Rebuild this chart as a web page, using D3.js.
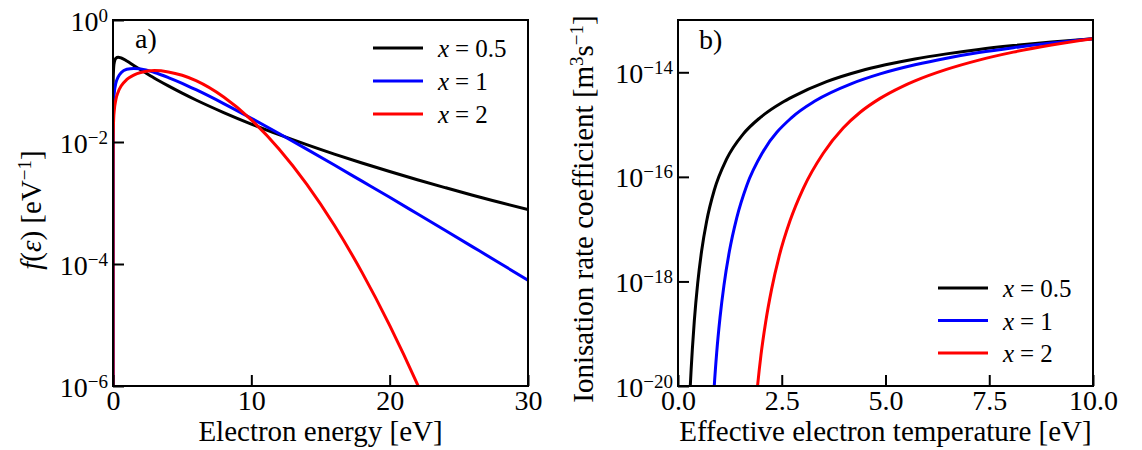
<!DOCTYPE html>
<html>
<head>
<meta charset="utf-8">
<script src="https://cdn.jsdelivr.net/npm/d3@7"></script>
<style>
  body { margin: 0; background: #fff; }
  svg { display: block; font-family: "Liberation Serif", "Tinos", "Times New Roman", "DejaVu Serif", serif; }
</style>
</head>
<body>
<svg id="chart" width="1142" height="450"></svg>
<script>
// ---- Panel a): electron energy distribution functions f(ε) [eV^-1] ----
const energy = [1e-13, 1e-4, 1e-3, 0.01, 0.05, 0.1, 0.2, 0.375, 0.6, 1, 1.5, 2, 3, 4, 5, 6,
                8, 10, 12, 14, 16, 18, 20, 22, 24, 26, 28, 30];
const eedfHalf = [3.44e-7, 0.0107, 0.0327, 0.0925, 0.169, 0.205, 0.235, 0.245, 0.238, 0.213,
                  0.180, 0.153, 0.111, 0.0831, 0.0632, 0.0488, 0.0304, 0.0197, 0.0132, 0.00905,
                  0.00634, 0.00453, 0.00328, 0.00241, 0.00179, 0.00134, 0.00102, 0.000778];
const eedfOne = [6.87e-8, 0.00217, 0.00687, 0.0216, 0.0478, 0.0664, 0.0909, 0.117, 0.138, 0.156,
                 0.161, 0.158, 0.138, 0.114, 0.0917, 0.0720, 0.0427, 0.0245, 0.0138, 0.00764,
                 0.00419, 0.00228, 0.00124, 0.000666, 0.000357, 0.000191, 0.000102, 0.0000540];
const eedfTwo = [3.44e-8, 0.00109, 0.00344, 0.0109, 0.0243, 0.0344, 0.0486, 0.0663, 0.0834, 0.106,
                 0.125, 0.138, 0.148, 0.141, 0.124, 0.101, 0.0546, 0.0231, 0.00770, 0.00204,
                 0.000431, 0.0000729, 0.00000986, 0.00000107, 9.3e-8, 6.5e-9, 3.6e-10, 1.65e-11];

// ---- Panel b): ionisation rate coefficient [m^3 s^-1] vs effective temperature [eV] ----
const tempHalf = [0.27, 0.29, 0.345, 0.393, 0.474, 0.57, 0.69, 0.875, 1.17, 1.57, 1.98, 2.5,
                  2.77, 3.58, 4.39, 5.0, 5.71, 6.47, 7.25, 8.08, 9.0, 10.0];
const rateHalf = [3.49e-21, 7.96e-21, 4.98e-20, 1.76e-19, 9.20e-19, 3.86e-18, 1.42e-17, 5.60e-17,
                  2.18e-16, 6.58e-16, 1.36e-15, 2.62e-15, 3.43e-15, 6.62e-15, 1.06e-14, 1.39e-14,
                  1.80e-14, 2.25e-14, 2.74e-14, 3.24e-14, 3.79e-14, 4.37e-14];
const tempOne = [0.86, 0.875, 0.932, 1.012, 1.108, 1.237, 1.414, 1.655, 2.056, 2.739, 3.30,
                 4.185, 4.87, 5.71, 6.47, 7.25, 8.08, 9.0, 10.0];
const rateOne = [6.67e-21, 1.04e-20, 4.31e-20, 2.02e-19, 8.51e-19, 3.72e-18, 1.63e-17, 6.78e-17,
                 3.10e-16, 1.36e-15, 2.82e-15, 6.08e-15, 9.31e-15, 1.39e-14, 1.86e-14, 2.38e-14,
                 2.95e-14, 3.62e-14, 4.37e-14];
const tempTwo = [1.895, 1.919, 1.999, 2.112, 2.257, 2.434, 2.699, 3.02, 3.50, 3.98, 4.39, 4.87,
                 5.39, 5.71, 6.47, 7.25, 8.08, 9.0, 10.0];
const rateTwo = [6.61e-21, 1.04e-20, 3.89e-20, 1.66e-19, 7.21e-19, 2.96e-18, 1.44e-17, 6.03e-17,
                 2.83e-16, 8.59e-16, 1.72e-15, 3.17e-15, 5.28e-15, 6.85e-15, 1.135e-14, 1.71e-14,
                 2.43e-14, 3.32e-14, 4.37e-14];

// ---- Shared legend / tick definitions ----
const shapeValues = ["0.5", "1", "2"];
const seriesColors = ["#000000", "#0000ff", "#ff0000"];
const energyTicks = [0, 10, 20, 30];
const eedfTicks = [1e0, 1e-2, 1e-4, 1e-6];
const tempTicks = [0, 2.5, 5, 7.5, 10];
const rateTicks = [1e-14, 1e-16, 1e-18, 1e-20];

const svg = d3.select("#chart");
const FONT = 28, TITLE = 29, SUP = 19, LEG = 25;

function appendPowerLabel(sel, v) {
  const exp = Math.round(Math.log10(v));
  sel.append("tspan").text("10");
  sel.append("tspan").attr("font-size", SUP).attr("dy", -9)
     .text(exp < 0 ? "\u2212" + (-exp) : String(exp));
}

function drawPanel(cfg, idx) {
  const g = svg.append("g");
  const x = d3.scaleLinear().domain(cfg.xDomain).range([cfg.left, cfg.right]);
  const y = d3.scaleLog().domain(cfg.yDomain).range([cfg.bottom, cfg.top]);

  const clipId = "plot-clip-" + idx;
  svg.append("clipPath").attr("id", clipId).append("rect")
     .attr("x", cfg.left).attr("y", cfg.top)
     .attr("width", cfg.right - cfg.left).attr("height", cfg.bottom - cfg.top);

  const line = d3.line().x(d => x(d[0])).y(d => y(d[1])).curve(d3.curveMonotoneX);
  cfg.series.forEach((s, i) => {
    g.append("path")
      .datum(d3.zip(s.xs, s.ys))
      .attr("d", line)
      .attr("clip-path", `url(#${clipId})`)
      .attr("fill", "none")
      .attr("stroke", seriesColors[i])
      .attr("stroke-width", 3)
      .attr("stroke-linejoin", "round");
  });

  // bottom axis, ticks pointing inward
  const xAxis = d3.axisBottom(x).tickValues(cfg.xTicks).tickFormat(cfg.xFormat)
                  .tickSize(-11).tickPadding(4);
  const gx = g.append("g").attr("transform", `translate(0,${cfg.bottom})`).call(xAxis);
  gx.select(".domain").remove();
  gx.attr("font-size", FONT).attr("font-family", null);
  gx.selectAll(".tick line").attr("stroke", "#000").attr("stroke-width", 2);
  gx.selectAll(".tick text").attr("fill", "#000");

  // left axis with power-of-ten labels
  const yAxis = d3.axisLeft(y).tickValues(cfg.yTicks).tickFormat(() => "").tickSize(-11);
  const gy = g.append("g").attr("transform", `translate(${cfg.left},0)`).call(yAxis);
  gy.select(".domain").remove();
  gy.attr("font-size", FONT).attr("font-family", null);
  gy.selectAll(".tick line").attr("stroke", "#000").attr("stroke-width", 2);
  gy.selectAll(".tick text").remove();
  gy.selectAll(".tick").each(function (v) {
    const t = d3.select(this).append("text")
      .attr("x", -5).attr("y", 10)
      .attr("text-anchor", "end").attr("fill", "#000");
    appendPowerLabel(t, v);
  });

  // frame
  g.append("rect")
    .attr("x", cfg.left).attr("y", cfg.top)
    .attr("width", cfg.right - cfg.left).attr("height", cfg.bottom - cfg.top)
    .attr("fill", "none").attr("stroke", "#000").attr("stroke-width", 2);

  // panel letter
  g.append("text").attr("x", cfg.letterX).attr("y", cfg.letterY)
    .attr("font-size", FONT).text(cfg.letter);

  // x-axis title
  g.append("text")
    .attr("x", (cfg.left + cfg.right) / 2).attr("y", cfg.bottom + 55)
    .attr("text-anchor", "middle").attr("font-size", TITLE)
    .text(cfg.xTitle);

  // y-axis title
  const yt = g.append("text")
    .attr("transform", `translate(${cfg.yTitleX},${cfg.yTitleY}) rotate(-90)`)
    .attr("text-anchor", "middle").attr("font-size", TITLE);
  cfg.yTitle(yt);

  // legend
  shapeValues.forEach((v, i) => {
    const ly = cfg.legendY + i * cfg.legendStep;
    g.append("line")
      .attr("x1", cfg.legendX).attr("x2", cfg.legendX + 50)
      .attr("y1", ly).attr("y2", ly)
      .attr("stroke", seriesColors[i]).attr("stroke-width", 3);
    const t = g.append("text").attr("x", cfg.legendX + 65).attr("y", ly + 9)
      .attr("font-size", LEG);
    t.append("tspan").attr("font-style", "italic").text("x");
    t.append("tspan").attr("dx", 6).text("=");
    t.append("tspan").attr("dx", 6).text(v);
  });
}

drawPanel({
  left: 113, right: 528, top: 20, bottom: 386,
  xDomain: [0, 30], yDomain: [1e-6, 1e0],
  xTicks: energyTicks, yTicks: eedfTicks, xFormat: d3.format("d"),
  series: [
    { xs: energy, ys: eedfHalf },
    { xs: energy, ys: eedfOne },
    { xs: energy, ys: eedfTwo }
  ],
  letter: "a)", letterX: 135, letterY: 48,
  xTitle: "Electron energy [eV]",
  yTitleX: 41, yTitleY: 210,
  yTitle: t => {
    t.append("tspan").attr("font-style", "italic").text("f");
    t.append("tspan").text("(");
    t.append("tspan").attr("font-style", "italic").text("\u03b5");
    t.append("tspan").text(") [eV");
    t.append("tspan").attr("font-size", SUP).attr("dy", -10).text("\u22121");
    t.append("tspan").attr("dy", 10).text("]");
  },
  legendX: 373, legendY: 48, legendStep: 33
}, 0);

drawPanel({
  left: 678, right: 1093, top: 20, bottom: 386,
  xDomain: [0, 10], yDomain: [1e-20, 1e-13],
  xTicks: tempTicks, yTicks: rateTicks, xFormat: d3.format(".1f"),
  series: [
    { xs: tempHalf, ys: rateHalf },
    { xs: tempOne, ys: rateOne },
    { xs: tempTwo, ys: rateTwo }
  ],
  letter: "b)", letterX: 699, letterY: 49,
  xTitle: "Effective electron temperature [eV]",
  yTitleX: 593, yTitleY: 209,
  yTitle: t => {
    t.append("tspan").text("Ionisation rate coefficient [m");
    t.append("tspan").attr("font-size", SUP).attr("dy", -10).text("3");
    t.append("tspan").attr("dy", 10).text("s");
    t.append("tspan").attr("font-size", SUP).attr("dy", -10).text("\u22121");
    t.append("tspan").attr("dy", 10).text("]");
  },
  legendX: 938, legendY: 288, legendStep: 32.5
}, 1);
</script>
</body>
</html>
